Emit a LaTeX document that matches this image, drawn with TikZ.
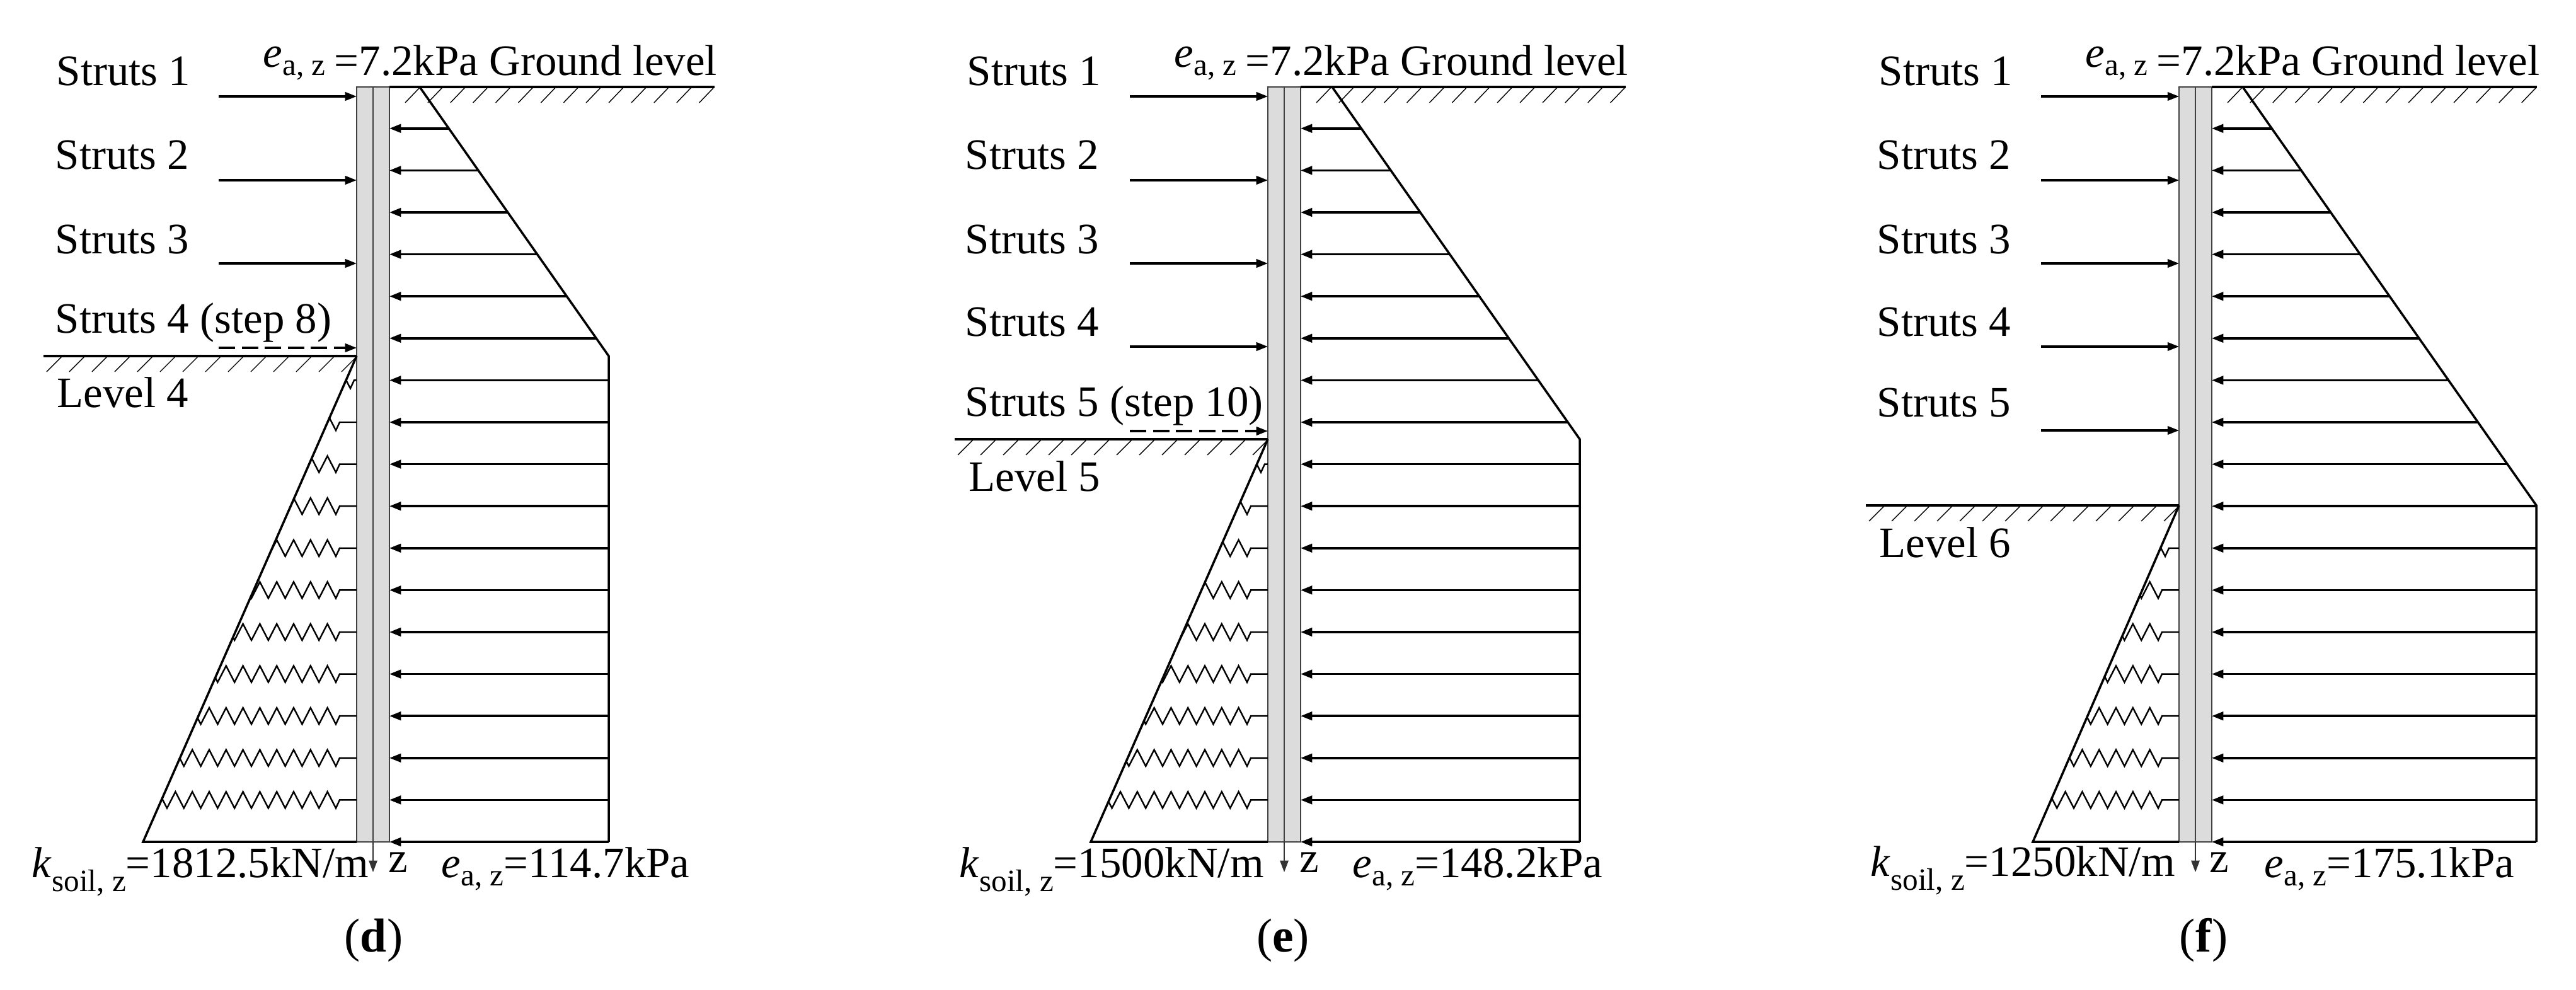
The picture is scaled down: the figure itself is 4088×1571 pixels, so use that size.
\documentclass[tikz,border=0pt]{standalone}
\usepackage{fontspec}
\setmainfont{Liberation Serif}
\usepackage{tikz}
\usetikzlibrary{arrows.meta}

\newcommand{\subsize}{\fontsize{14}{14}\selectfont}
\newcommand{\eazlow}{\textit{e}\raisebox{-3.7pt}{\subsize a, z}}
\newcommand{\eazhigh}{\raisebox{3.7pt}{\textit{e}}{\subsize a, z}\hspace{4pt}}
\newcommand{\ksoil}{\textit{k}\raisebox{-6.5pt}{\subsize soil, z}}

\tikzset{
  lbl/.style={anchor=base west, inner sep=0pt, font=\fontsize{19.6}{22}\selectfont},
  capt/.style={anchor=base, inner sep=0pt, font=\fontsize{21.5}{24}\selectfont},
  wallbox/.style={fill=wallgray, draw=black!75, line width=0.45pt},
  tip/.style={-{Triangle[length=5.2pt,width=3.8pt]}},
  loadline/.style={tip, color=black, line width=1pt},
  strutline/.style={tip, color=black, line width=0.9pt},
  dashline/.style={strutline, dash pattern=on 7.4pt off 3pt},
  outline/.style={color=black, line width=1pt},
  groundline/.style={color=black, line width=1.3pt},
  hatchline/.style={color=black, line width=0.4pt},
  springline/.style={color=black, line width=0.7pt, line join=miter},
}
\definecolor{wallgray}{HTML}{DCDCDC}

\begin{document}
\begin{tikzpicture}[x=0.01cm, y=-0.01cm]
\useasboundingbox (0,0) rectangle (4088,1571);

\foreach \dx/\xs/\xk/\ky/\xb/\xa in {0/666/966/565/227/562, 1446/668/1061/697/285/561, 2892/667/1133/802/334/550}{
\begin{scope}[shift={(\dx,0)}]
\draw[wallbox](566, 138) rectangle (592, 1336);
\draw[wallbox](592, 138) rectangle (618, 1336);
\draw[tip, color=black!80, line width=0.45pt](592, 1336) -- (592, 1384);

\draw[groundline](618, 138) -- (1134, 138);
\foreach \h in {0,...,13}{
  \draw[hatchline](643+35.9*\h, 163) -- (666+35.9*\h, 139);
}
\draw[groundline](69, \ky) -- (566, \ky);
\foreach \h in {0,...,13}{
  \draw[hatchline](542-36*\h, \ky+25) -- (566-36*\h, \ky+1);
}

\draw[outline](\xs, 138) -- (\xk, \ky) -- (\xk, 1336);
\draw[outline](566, \ky) -- (\xb, 1336) -- (566, 1336);

\foreach \k in {0,...,17}{
  \pgfmathsetmacro{\yr}{1336-66.6*\k}
  \pgfmathsetmacro{\xr}{\yr<\ky ? \xs+(\xk-\xs)*((\yr-138)/(\ky-138)) : \xk}
  \draw[loadline](\xr, \yr) -- (618, \yr);
}

\begin{scope}
\clip (566, \ky) -- (\xb, 1336) -- (566, 1336) -- cycle;
\foreach \k in {1,...,17}{
  \pgfmathsetmacro{\yr}{1336-66.6*\k}
  \pgfmathsetmacro{\xt}{\yr<\ky+70 ? \xa : 539}
  \draw[springline](566, \yr) -- (\xt, \yr) -- (\xt-6, \yr+13)
    \foreach \t in {1,...,12}{ -- ++(-13.4, -26) -- ++(-13.4, 26)};
}
\end{scope}

\draw[strutline](347, 153) -- (566, 153);
\draw[strutline](347, 286) -- (566, 286);
\draw[strutline](347, 418) -- (566, 418);

\node[lbl] (ground\dx) at (417, 120) {\eazhigh=7.2kPa Ground level};
\end{scope}
}

\draw[dashline](347, 552) -- (566, 552);
\draw[strutline](1793, 550) -- (2012, 550);
\draw[dashline](1793, 684) -- (2012, 684);
\draw[strutline](3239, 550) -- (3458, 550);
\draw[strutline](3239, 683) -- (3458, 683);

\node[lbl] (s1d) at (89, 136) {Struts 1};
\node[lbl] (s2d) at (87, 269) {Struts 2};
\node[lbl] (s3d) at (87, 403) {Struts 3};
\node[lbl] (s4d) at (87, 529) {Struts 4 (step 8)};
\node[lbl] (levd) at (90, 647) {Level 4};
\node[lbl] (kd) at (50, 1392) {\ksoil=1812.5kN/m};
\node[lbl] (zd) at (616, 1384) {z};
\node[lbl] (ed) at (700, 1392) {\eazlow=114.7kPa};
\node[capt] (capd) at (593, 1510) {(\textbf{d})};

\node[lbl] (s1e) at (1534, 136) {Struts 1};
\node[lbl] (s2e) at (1531, 269) {Struts 2};
\node[lbl] (s3e) at (1531, 403) {Struts 3};
\node[lbl] (s4e) at (1531, 534) {Struts 4};
\node[lbl] (s5e) at (1531, 661) {Struts 5 (step 10)};
\node[lbl] (leve) at (1537, 780) {Level 5};
\node[lbl] (ke) at (1522, 1392) {\ksoil=1500kN/m};
\node[lbl] (ze) at (2062, 1384) {z};
\node[lbl] (ee) at (2146, 1392) {\eazlow=148.2kPa};
\node[capt] (cape) at (2036, 1510) {(\textbf{e})};

\node[lbl] (s1f) at (2981, 136) {Struts 1};
\node[lbl] (s2f) at (2978, 269) {Struts 2};
\node[lbl] (s3f) at (2978, 403) {Struts 3};
\node[lbl] (s4f) at (2978, 534) {Struts 4};
\node[lbl] (s5f) at (2978, 662) {Struts 5};
\node[lbl] (levf) at (2982, 885) {Level 6};
\node[lbl] (kf) at (2968, 1390) {\ksoil=1250kN/m};
\node[lbl] (zf) at (3506, 1384) {z};
\node[lbl] (ef) at (3593, 1392) {\eazlow=175.1kPa};
\node[capt] (capf) at (3497, 1510) {(\textbf{f})};

\end{tikzpicture}
\end{document}
